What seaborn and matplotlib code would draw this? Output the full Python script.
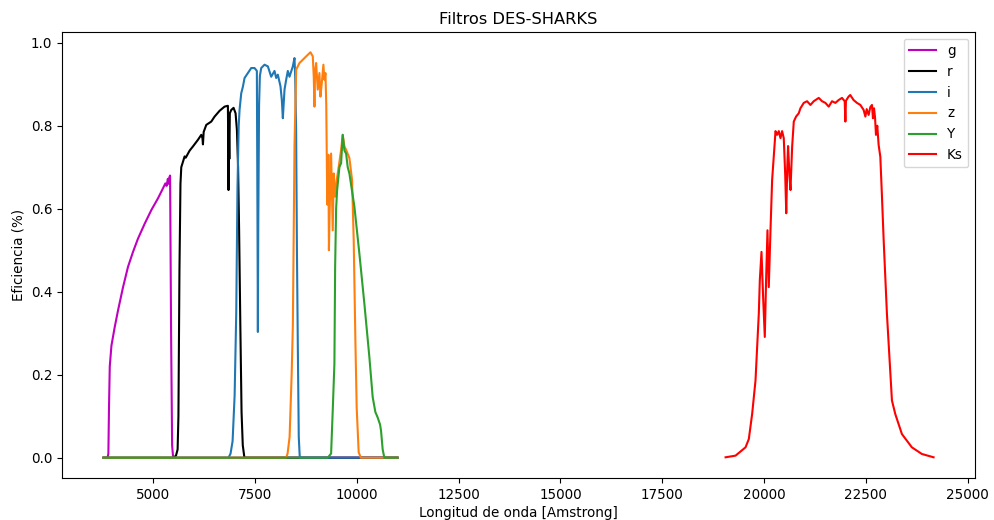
import matplotlib
matplotlib.use("Agg")
import matplotlib.pyplot as plt
import seaborn as sns

# Filter transmission curves: wavelength [Angstrom] and efficiency
wl_g = [3780, 3880, 3900, 3915, 3934, 3975, 4056, 4137, 4260, 4382, 4505, 4627,
        4792, 4956, 5118, 5240, 5299, 5330, 5360, 5380, 5395, 5415, 5440, 5465,
        5490, 11000]
eff_g = [0, 0, 0.01, 0.12, 0.22, 0.27, 0.315, 0.355, 0.411, 0.46, 0.496, 0.528,
         0.564, 0.597, 0.625, 0.649, 0.661, 0.655, 0.672, 0.66, 0.675, 0.68, 0.30,
         0.03, 0, 0]

wl_r = [3780, 5500, 5560, 5600, 5620, 5645, 5670, 5690, 5772, 5800, 5895, 5976,
        6099, 6181, 6210, 6222, 6240, 6304, 6427, 6508, 6631, 6753, 6835, 6843,
        6850, 6857, 6870, 6882, 6917, 6974, 7023, 7056, 7085, 7110, 7140, 7170,
        7200, 7240, 11000]
eff_r = [0, 0, 0.005, 0.02, 0.1, 0.45, 0.66, 0.70, 0.726, 0.723, 0.74, 0.75,
         0.766, 0.778, 0.77, 0.755, 0.785, 0.802, 0.81, 0.822, 0.836, 0.846, 0.848,
         0.75, 0.645, 0.80, 0.72, 0.83, 0.838, 0.843, 0.83, 0.79, 0.70, 0.55, 0.32,
         0.11, 0.03, 0, 0]

wl_i = [3780, 6850, 6900, 6950, 7000, 7040, 7070, 7100, 7121, 7162, 7203, 7244,
        7326, 7408, 7489, 7546, 7560, 7571, 7580, 7600, 7620, 7653, 7734, 7816,
        7898, 7979, 8020, 8061, 8126, 8159, 8184, 8225, 8266, 8306, 8347, 8429,
        8470, 8487, 8510, 8530, 8551, 8575, 8600, 11000]
eff_i = [0, 0, 0.01, 0.04, 0.15, 0.35, 0.65, 0.80, 0.838, 0.878, 0.894, 0.915,
         0.927, 0.939, 0.939, 0.932, 0.60, 0.303, 0.55, 0.85, 0.92, 0.939, 0.947,
         0.943, 0.918, 0.932, 0.915, 0.923, 0.895, 0.862, 0.818, 0.887, 0.911,
         0.932, 0.918, 0.943, 0.963, 0.918, 0.79, 0.50, 0.275, 0.05, 0, 0]

wl_z = [3780, 8266, 8300, 8350, 8400, 8430, 8470, 8511, 8592, 8674, 8756, 8862,
        8919, 8943, 8960, 8975, 9001, 9041, 9082, 9107, 9140, 9180, 9205, 9230,
        9250, 9275, 9302, 9315, 9335, 9369, 9409, 9433, 9468, 9507, 9556, 9615,
        9654, 9696, 9737, 9818, 9884, 9924, 9965, 9997, 10046, 10100, 11000]
eff_z = [0, 0, 0.01, 0.05, 0.20, 0.32, 0.75, 0.935, 0.951, 0.959, 0.967, 0.977,
         0.967, 0.918, 0.846, 0.93, 0.951, 0.887, 0.927, 0.87, 0.903, 0.947, 0.911,
         0.927, 0.85, 0.61, 0.73, 0.50, 0.60, 0.733, 0.548, 0.685, 0.629, 0.669,
         0.701, 0.742, 0.778, 0.75, 0.742, 0.722, 0.669, 0.524, 0.283, 0.121,
         0.013, 0, 0]

wl_y = [3780, 9286, 9369, 9409, 9450, 9468, 9492, 9517, 9573, 9615, 9654, 9696,
        9737, 9777, 9818, 9941, 10063, 10186, 10309, 10390, 10456, 10512, 10571,
        10595, 10635, 10676, 11000]
eff_y = [0, 0, 0.01, 0.114, 0.226, 0.46, 0.60, 0.645, 0.70, 0.71, 0.778, 0.74,
         0.733, 0.70, 0.685, 0.605, 0.492, 0.371, 0.242, 0.146, 0.11, 0.097, 0.08,
         0.065, 0.02, 0, 0]

wl_ks = [19055, 19300, 19545, 19626, 19707, 19790, 19830, 19871, 19896, 19937,
         19977, 20018, 20050, 20084, 20116, 20158, 20198, 20264, 20281, 20320,
         20362, 20403, 20443, 20484, 20520, 20545, 20570, 20590, 20624, 20649,
         20690, 20730, 20786, 20852, 20893, 20975, 21056, 21139, 21220, 21343,
         21424, 21506, 21588, 21669, 21751, 21833, 21914, 21980, 21997, 22010,
         22074, 22116, 22197, 22281, 22365, 22445, 22488, 22520, 22568, 22610,
         22650, 22674, 22700, 22725, 22748, 22780, 22813, 22855, 22895, 22937,
         23017, 23140, 23223, 23385, 23630, 23875, 24163]
eff_ks = [0.001, 0.005, 0.025, 0.045, 0.105, 0.186, 0.266, 0.347, 0.428, 0.496,
          0.387, 0.291, 0.428, 0.548, 0.411, 0.548, 0.669, 0.762, 0.787, 0.778,
          0.787, 0.77, 0.787, 0.77, 0.68, 0.589, 0.70, 0.751, 0.68, 0.645,
          0.75, 0.81, 0.822, 0.83, 0.842, 0.855, 0.859, 0.85, 0.859, 0.867,
          0.859, 0.855, 0.846, 0.859, 0.855, 0.862, 0.867, 0.859, 0.81, 0.86,
          0.87, 0.874, 0.862, 0.855, 0.85, 0.838, 0.822, 0.84, 0.826, 0.845,
          0.85, 0.818, 0.842, 0.82, 0.778, 0.80, 0.754, 0.725, 0.63, 0.524,
          0.347, 0.138, 0.105, 0.057, 0.025, 0.009, 0.001]

labels = ["g", "r", "i", "z", "Y", "Ks"]
colors = ["m", "k", "#1f77b4", "#ff7f0e", "#2ca02c", "r"]
curves = [(wl_g, eff_g), (wl_r, eff_r), (wl_i, eff_i),
          (wl_z, eff_z), (wl_y, eff_y), (wl_ks, eff_ks)]

plt.rcParams["font.size"] = 9.75

fig, ax = plt.subplots(figsize=(9.95, 5.2), dpi=100)
fig.subplots_adjust(left=0.0623, right=0.98, top=0.9385, bottom=0.0808)

for (wl, eff), lab, col in zip(curves, labels, colors):
    sns.lineplot(x=wl, y=eff, ax=ax, color=col, label=lab, linewidth=1.5,
                 estimator=None, sort=False)

ax.set_title("Filtros DES-SHARKS")
ax.set_xlabel("Longitud de onda [Amstrong]", labelpad=3)
ax.set_ylabel("Eficiencia (%)")
ax.legend(loc="upper right")

fig.savefig("out.png", dpi=100)
